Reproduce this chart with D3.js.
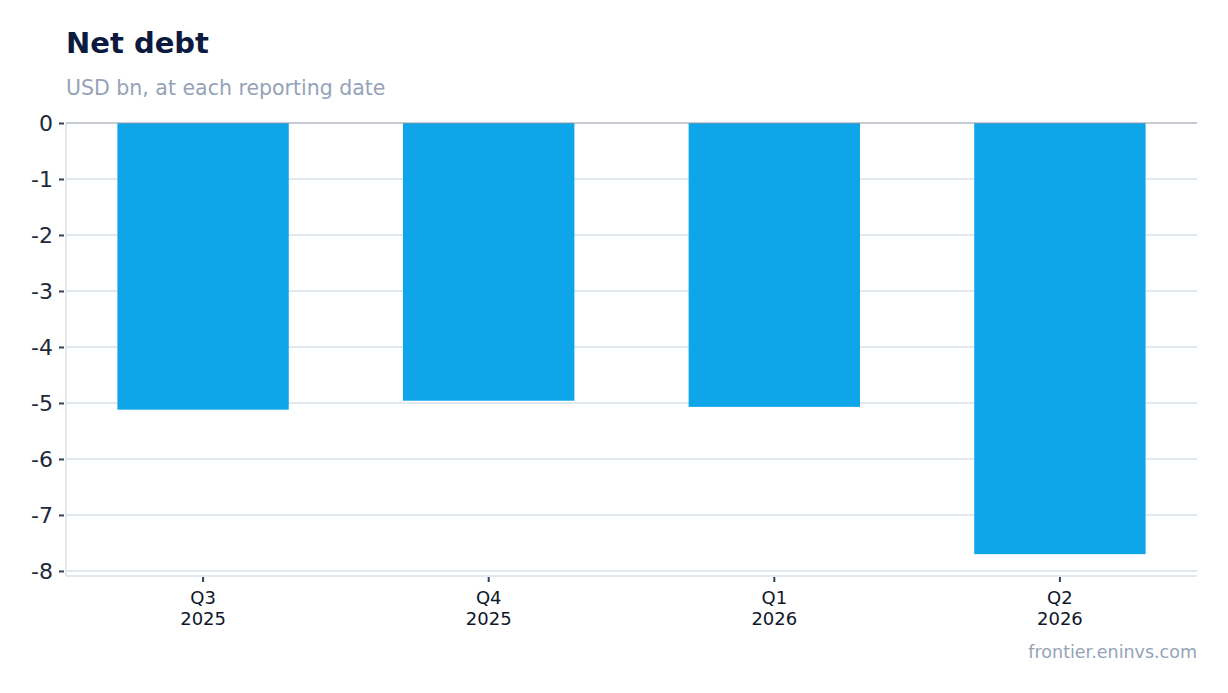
<!DOCTYPE html>
<html>
<head>
<meta charset="utf-8">
<script src="https://cdn.jsdelivr.net/npm/d3@7"></script>
<style>
  body { margin: 0; background: #fff; }
  svg { display: block; font-family: "DejaVu Sans", sans-serif; }
</style>
</head>
<body>
<div id="chart"></div>
<script>
var quarters = ["Q3", "Q4", "Q1", "Q2"];
var years = ["2025", "2025", "2026", "2026"];
var netDebt = [-5.12, -4.96, -5.07, -7.7];
var yTicks = [0, -1, -2, -3, -4, -5, -6, -7, -8];

var width = 1228;
var height = 693;
var plotLeft = 66, plotRight = 1197, plotTop = 123, plotBottom = 576;

var svg = d3.select("#chart").append("svg")
  .attr("width", width)
  .attr("height", height);

var labels = quarters.map(function (q, i) { return q + "|" + years[i]; });

var xScale = d3.scaleBand()
  .domain(labels)
  .range([plotLeft, plotRight])
  .paddingInner(0.4)
  .paddingOuter(0.18);

var yScale = d3.scaleLinear()
  .domain([0, -8.09])
  .range([plotTop, plotBottom]);

// gridlines
svg.append("g")
  .selectAll("line")
  .data(yTicks.filter(function (d) { return d !== 0; }))
  .enter()
  .append("line")
  .attr("x1", plotLeft)
  .attr("x2", plotRight)
  .attr("y1", function (d) { return yScale(d); })
  .attr("y2", function (d) { return yScale(d); })
  .attr("stroke", "#e2e8f0")
  .attr("stroke-width", 2);

// left axis line and bottom line
svg.append("line")
  .attr("x1", plotLeft).attr("x2", plotLeft)
  .attr("y1", plotTop).attr("y2", plotBottom)
  .attr("stroke", "#e2e8f0").attr("stroke-width", 2);
svg.append("line")
  .attr("x1", plotLeft).attr("x2", plotRight)
  .attr("y1", plotBottom).attr("y2", plotBottom)
  .attr("stroke", "#e2e8f0").attr("stroke-width", 2);

// bars
svg.selectAll("rect.bar")
  .data(netDebt)
  .enter()
  .append("rect")
  .attr("class", "bar")
  .attr("x", function (d, i) { return xScale(labels[i]); })
  .attr("y", yScale(0))
  .attr("width", xScale.bandwidth())
  .attr("height", function (d) { return yScale(d) - yScale(0); })
  .attr("fill", "#0ea5e9");

// zero line
svg.append("line")
  .attr("x1", plotLeft).attr("x2", plotRight)
  .attr("y1", yScale(0)).attr("y2", yScale(0))
  .attr("stroke", "#8b95a7").attr("stroke-width", 1);

// y axis
var yAxis = d3.axisLeft(yScale)
  .tickValues(yTicks)
  .tickSize(5)
  .tickPadding(6)
  .tickFormat(d3.format("d"));

var gy = svg.append("g")
  .attr("transform", "translate(" + (plotLeft - 2) + ",0)")
  .call(yAxis);
gy.select(".domain").remove();
gy.selectAll(".tick line").attr("stroke", "#334155").attr("stroke-width", 2);
gy.selectAll(".tick text")
  .style("font-size", "22px")
  .style("font-family", "DejaVu Sans")
  .attr("fill", "#1e293b")
  .text(function (d) { return d === 0 ? "0" : "-" + Math.abs(d); });

// x axis
var xAxis = d3.axisBottom(xScale)
  .tickSize(5)
  .tickPadding(8)
  .tickFormat("");

var gx = svg.append("g")
  .attr("transform", "translate(0," + (plotBottom + 1) + ")")
  .call(xAxis);
gx.select(".domain").remove();
gx.selectAll(".tick line").attr("stroke", "#334155").attr("stroke-width", 2);

gx.selectAll(".tick text").remove();
gx.selectAll(".tick").each(function (d, i) {
  var t = d3.select(this).append("text")
    .attr("text-anchor", "middle")
    .style("font-size", "18px")
    .style("font-family", "DejaVu Sans")
    .attr("fill", "#0f172a");
  t.append("tspan").attr("x", 0).attr("y", 27).text(quarters[i]);
  t.append("tspan").attr("x", 0).attr("y", 48).text(years[i]);
});

// title
svg.append("text")
  .attr("x", 66)
  .attr("y", 53)
  .style("font-size", "29px")
  .attr("font-weight", "bold")
  .attr("fill", "#0b1a3e")
  .text("Net debt");

svg.append("text")
  .attr("x", 66)
  .attr("y", 95)
  .style("font-size", "20.5px")
  .attr("fill", "#94a3b8")
  .text("USD bn, at each reporting date");

svg.append("text")
  .attr("x", 1197)
  .attr("y", 658)
  .attr("text-anchor", "end")
  .style("font-size", "17.5px")
  .attr("fill", "#94a3b8")
  .text("frontier.eninvs.com");
</script>
</body>
</html>
